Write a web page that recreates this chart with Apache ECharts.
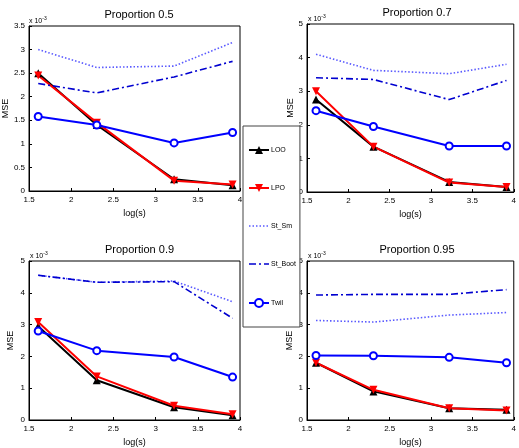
<!DOCTYPE html>
<html>
<head>
<meta charset="utf-8">
<script src="https://cdn.jsdelivr.net/npm/echarts@6/dist/echarts.min.js"></script>
<style>
  html, body { margin: 0; padding: 0; background: #fff; }
  #chart { width: 519px; height: 448px; }
</style>
</head>
<body>
<div id="chart"></div>
<script>
  // x positions: log(s) for s = 5, 10, 25, 50
  const logS = [1.609, 2.303, 3.219, 3.912];
  const panelTitles = ['Proportion 0.5', 'Proportion 0.7', 'Proportion 0.9', 'Proportion 0.95'];
  const xTicks = [1.5, 4, 0.5]; // min, max, step
  const yMax = [3.5, 5, 5, 5];
  const yStep = [0.5, 1, 1, 1];

  // MSE values in units of 1e-3, one row per panel
  const looValues = [
    [2.50, 1.40, 0.25, 0.12],
    [2.75, 1.35, 0.30, 0.15],
    [2.95, 1.25, 0.40, 0.15],
    [1.80, 0.90, 0.37, 0.32],
  ];
  const lpoValues = [
    [2.45, 1.45, 0.22, 0.14],
    [3.00, 1.35, 0.28, 0.15],
    [3.08, 1.37, 0.45, 0.18],
    [1.80, 0.95, 0.37, 0.30],
  ];
  const stSmValues = [
    [3.00, 2.62, 2.65, 3.15],
    [4.10, 3.62, 3.52, 3.80],
    [4.55, 4.33, 4.37, 3.72],
    [3.13, 3.08, 3.30, 3.38],
  ];
  const stBootValues = [
    [2.28, 2.08, 2.42, 2.75],
    [3.40, 3.35, 2.75, 3.32],
    [4.55, 4.33, 4.35, 3.20],
    [3.93, 3.95, 3.95, 4.10],
  ];
  const twilValues = [
    [1.58, 1.40, 1.02, 1.24],
    [2.42, 1.95, 1.37, 1.37],
    [2.80, 2.18, 1.98, 1.35],
    [2.03, 2.02, 1.97, 1.80],
  ];

  const font = 'Liberation Sans, Arial, sans-serif';
  const grids = [
    { left: 28, top: 26, width: 212, height: 165 },
    { left: 307, top: 24, width: 210, height: 168 },
    { left: 29, top: 261, width: 211, height: 161 },
    { left: 307, top: 261, width: 210, height: 161 },
  ];
  const mseGap = [15, 12, 14, 13];

  const methods = [
    { name: 'LOO', values: looValues, color: '#000000', symbol: 'triangle', rotate: 0, type: 'solid' },
    { name: 'LPO', values: lpoValues, color: '#ff0000', symbol: 'triangle', rotate: 180, type: 'solid' },
    { name: 'St_Sm', values: stSmValues, color: '#5a5aff', symbol: 'none', rotate: 0, type: [1.5, 2] },
    { name: 'St_Boot', values: stBootValues, color: '#0000d0', symbol: 'none', rotate: 0, type: [7, 3, 2, 3] },
    { name: 'Twil', values: twilValues, color: '#0000ff', symbol: 'emptyCircle', rotate: 0, type: 'solid' },
  ];

  const chart = echarts.init(document.getElementById('chart'));

  const axisLabel = { color: '#000', fontSize: 8, fontFamily: font };
  const axisTick = { inside: true, length: 3, lineStyle: { color: '#000' } };

  const makeSeries = (m, i) => {
    const s = {
      name: m.name,
      type: 'line',
      xAxisIndex: i,
      yAxisIndex: i,
      data: logS.map((x, k) => [x, m.values[i][k]]),
      lineStyle: {
        color: m.color,
        width: m.type === 'solid' ? 2 : 1.6,
        type: Array.isArray(m.type) ? m.type.slice() : m.type,
      },
      itemStyle: { color: m.color },
    };
    if (m.symbol === 'none') {
      s.symbol = 'none';
      s.showSymbol = false;
    } else {
      s.symbol = m.symbol;
      s.symbolRotate = m.rotate;
      s.symbolSize = m.symbol === 'emptyCircle' ? 7 : 8;
      if (m.symbol === 'emptyCircle') s.itemStyle.borderWidth = 2;
    }
    return s;
  };

  // legend entries: hide the placeholder dot for lines without markers
  const legendData = methods.map(m => {
    const item = {
      name: m.name,
      lineStyle: {
        color: m.color,
        width: m.type === 'solid' ? 2 : 1.6,
        type: Array.isArray(m.type) ? m.type.slice() : m.type,
      },
    };
    if (m.symbol === 'none') item.itemStyle = { opacity: 0 };
    return item;
  });

  chart.setOption({
    animation: false,
    backgroundColor: '#fff',
    textStyle: { fontFamily: font },
    title: panelTitles.map((text, i) => ({
      text,
      left: grids[i].left + grids[i].width / 2,
      top: grids[i].top - 22,
      textAlign: 'center',
      textStyle: { fontSize: 11, fontWeight: 'normal', color: '#000', fontFamily: font },
    })),
    legend: {
      orient: 'vertical',
      left: 243,
      top: 126,
      width: 57,
      height: 201,
      padding: [20, 4, 19, 5],
      itemGap: 30,
      itemWidth: 20,
      itemHeight: 10,
      borderColor: '#444',
      borderWidth: 1,
      backgroundColor: '#fff',
      textStyle: { fontSize: 7, color: '#000', fontFamily: font, padding: [0, 0, 0, -3] },
      data: legendData,
    },
    grid: grids.map(g => ({ ...g, show: true, borderColor: '#000', borderWidth: 1, backgroundColor: 'transparent' })),
    graphic: grids.map(g => ({
      type: 'text',
      left: g.left + 1,
      top: g.top - 10,
      style: {
        text: '{a|x 10}{b|-3}',
        rich: {
          a: { fontSize: 7, fontFamily: font, fill: '#000' },
          b: { fontSize: 5, fontFamily: font, fill: '#000', verticalAlign: 'top', padding: [0, 0, 5, 0] },
        },
      },
    })),
    xAxis: grids.map((_, i) => ({
      type: 'value',
      gridIndex: i,
      min: xTicks[0],
      max: xTicks[1],
      interval: xTicks[2],
      name: 'log(s)',
      nameLocation: 'middle',
      nameGap: 18,
      nameTextStyle: { fontSize: 9, color: '#000', fontFamily: font },
      axisLine: { lineStyle: { color: '#000' } },
      axisTick,
      axisLabel: { ...axisLabel, margin: 5 },
      splitLine: { show: false },
    })),
    yAxis: grids.map((_, i) => ({
      type: 'value',
      gridIndex: i,
      min: 0,
      max: yMax[i],
      interval: yStep[i],
      name: 'MSE',
      nameLocation: 'middle',
      nameGap: mseGap[i],
      nameTextStyle: { fontSize: 9, color: '#000', fontFamily: font },
      axisLine: { show: true, lineStyle: { color: '#000' } },
      axisTick,
      axisLabel: { ...axisLabel, margin: 4 },
      splitLine: { show: false },
    })),
    series: grids.flatMap((_, i) => methods.map(m => makeSeries(m, i))),
  });
</script>
</body>
</html>
